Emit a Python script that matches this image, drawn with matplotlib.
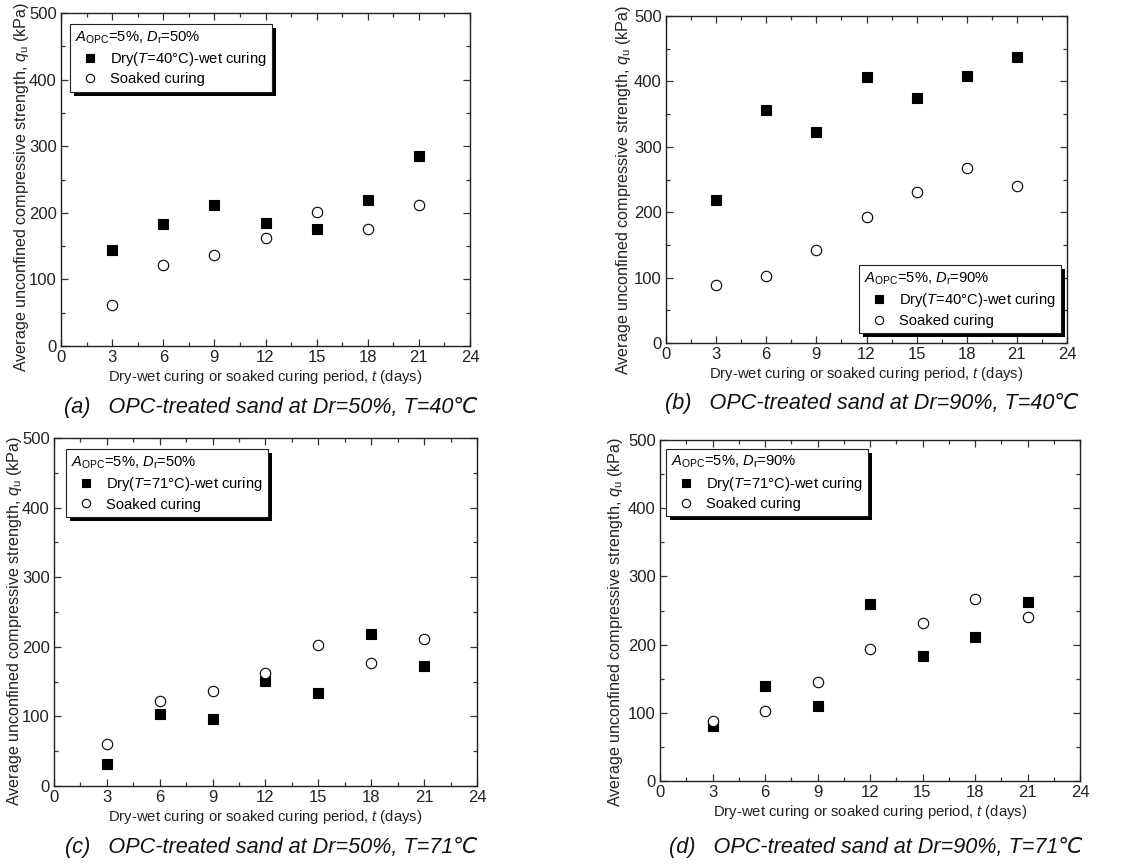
import matplotlib
matplotlib.use("Agg")
import matplotlib.pyplot as plt
from matplotlib.ticker import MultipleLocator
from matplotlib.patches import Rectangle

plt.rcParams['font.family'] = ['Liberation Sans', 'DejaVu Sans']
plt.rcParams['mathtext.fontset'] = 'custom'
plt.rcParams['mathtext.rm'] = 'Liberation Sans'
plt.rcParams['mathtext.it'] = 'Liberation Sans:italic'
plt.rcParams['mathtext.default'] = 'regular'

days = [3, 6, 9, 12, 15, 18, 21]

dry_a = [144, 183, 212, 185, 176, 219, 285]
soak_a = [61, 122, 136, 162, 201, 176, 211]

dry_b = [219, 357, 323, 407, 375, 409, 438]
soak_b = [88, 102, 142, 193, 231, 267, 240]

dry_c = [31, 104, 96, 151, 133, 219, 173]
soak_c = [61, 122, 136, 162, 202, 177, 211]

dry_d = [80, 139, 110, 259, 184, 211, 262]
soak_d = [88, 102, 145, 193, 231, 267, 240]

panels = [
    dict(dry=dry_a, soak=soak_a, temp='40', dr='50',
         caption='(a)   OPC-treated sand at Dr=50%, T=40\u2103',
         rect=[61, 13, 470, 346], leg=('upper left', (0.022, 0.967)), cap_y=408,
         ylab=(-0.073, 0.477)),
    dict(dry=dry_b, soak=soak_b, temp='40', dr='90',
         caption='(b)   OPC-treated sand at Dr=90%, T=40\u2103',
         rect=[666, 16, 1067, 343], leg=('lower right', (0.985, 0.031)), cap_y=403,
         ylab=(-0.082, 0.468)),
    dict(dry=dry_c, soak=soak_c, temp='71', dr='50',
         caption='(c)   OPC-treated sand at Dr=50%, T=71\u2103',
         rect=[54, 438, 477, 786], leg=('upper left', (0.028, 0.968)), cap_y=848,
         ylab=(-0.071, 0.474)),
    dict(dry=dry_d, soak=soak_d, temp='71', dr='90',
         caption='(d)   OPC-treated sand at Dr=90%, T=71\u2103',
         rect=[660, 440, 1080, 781], leg=('upper left', (0.014, 0.974)), cap_y=848,
         ylab=(-0.083, 0.465)),
]

W, H = 1140, 866
fig = plt.figure(figsize=(W / 100, H / 100), dpi=100)

legends = []
for p in panels:
    x0, y0, x1, y1 = p['rect']
    ax = fig.add_axes([x0 / W, (H - y1) / H, (x1 - x0) / W, (y1 - y0) / H])
    ax.plot(days, p['dry'], linestyle='none', marker='s', ms=7.5,
            mfc='black', mec='black', mew=0.8,
            label='Dry($\\mathit{T}$=%s\u00b0C)-wet curing' % p['temp'])
    ax.plot(days, p['soak'], linestyle='none', marker='o', ms=7.5,
            mfc='white', mec='black', mew=0.8, label='Soaked curing')
    ax.set_xlim(0, 24)
    ax.set_ylim(0, 500)
    ax.xaxis.set_major_locator(MultipleLocator(3))
    ax.xaxis.set_minor_locator(MultipleLocator(1.5))
    ax.yaxis.set_major_locator(MultipleLocator(100))
    ax.yaxis.set_minor_locator(MultipleLocator(50))
    ax.tick_params(which='both', direction='in', top=True, right=True,
                   color='#333333', width=0.9)
    ax.tick_params(which='major', length=5, labelsize=12, labelcolor='#222222', pad=3)
    ax.tick_params(which='minor', length=3)
    for s in ax.spines.values():
        s.set_linewidth(1.0)
        s.set_color('#222222')
    ax.set_xlabel('Dry-wet curing or soaked curing period, $\\mathit{t}$ (days)',
                  fontsize=10.7, color='#222222', labelpad=2)
    ax.set_ylabel('Average unconfined compressive strength, $\\mathit{q}_{u}$ (kPa)',
                  fontsize=11.6, color='#222222')
    ax.yaxis.set_label_coords(*p['ylab'])
    loc, anchor = p['leg']
    leg = ax.legend(loc=loc, bbox_to_anchor=anchor, borderaxespad=0,
                    title='$\\mathit{A}_{OPC}$=5%%, $\\mathit{D}_{r}$=%s%%' % p['dr'],
                    title_fontsize=10.6, fontsize=10.6, alignment='left',
                    fancybox=False, edgecolor='#222222', framealpha=1,
                    handlelength=2.0, handletextpad=0.4, borderpad=0.35,
                    labelspacing=0.3, markerscale=0.8)
    leg.get_frame().set_linewidth(0.8)
    leg.set_zorder(6)
    legends.append((ax, leg))
    cx = (x0 + x1) / 2 / W
    fig.text(cx + 0.005, (H - p['cap_y']) / H, p['caption'], fontsize=15.6,
             style='italic', ha='center', va='center', color='#111111')

fig.canvas.draw()
for ax, leg in legends:
    bb = leg.get_frame().get_window_extent()
    off = 4
    r = Rectangle((bb.x0 + off, bb.y0 - off), bb.width, bb.height,
                  transform=None, facecolor='black', edgecolor='none',
                  zorder=5.5, clip_on=False)
    ax.add_artist(r)

fig.savefig('out.png', dpi=100)
